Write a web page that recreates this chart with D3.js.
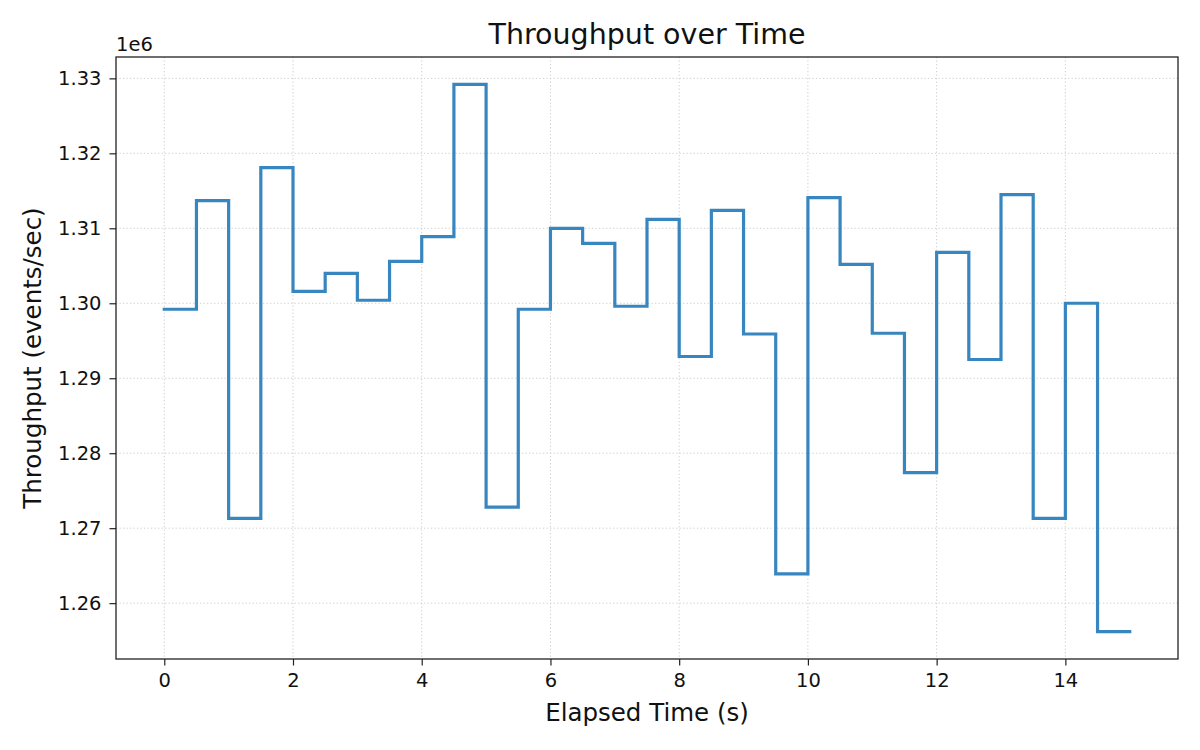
<!DOCTYPE html>
<html>
<head>
<meta charset="utf-8">
<script src="https://cdn.jsdelivr.net/npm/d3@7"></script>
<style>
  body { margin: 0; background: #fff; }
  svg { font-family: "DejaVu Sans", sans-serif; }
</style>
</head>
<body>
<svg id="chart" width="1200" height="750"></svg>
<script>
// start of each 0.5 s interval (s)
const times = [0, 0.5, 1, 1.5, 2, 2.5, 3, 3.5, 4, 4.5, 5, 5.5, 6, 6.5, 7, 7.5,
               8, 8.5, 9, 9.5, 10, 10.5, 11, 11.5, 12, 12.5, 13, 13.5, 14, 14.5];
// throughput in events/sec for that interval
const throughput = [1299200, 1313700, 1271300, 1318100, 1301600, 1304000, 1300400, 1305600,
                    1308900, 1329200, 1272800, 1299200, 1310000, 1308000, 1299600, 1311200,
                    1292900, 1312400, 1295900, 1263900, 1314100, 1305200, 1296000, 1277400,
                    1306800, 1292500, 1314500, 1271300, 1300000, 1256200];
const endTime = 15;
const xTicks = [0, 2, 4, 6, 8, 10, 12, 14];
const yTicks = [1260000, 1270000, 1280000, 1290000, 1300000, 1310000, 1320000, 1330000];

const svg = d3.select('#chart');
const pL = 116, pR = 1178, pT = 57, pB = 659;

// step points, last value held until the end time
const pts = times.map((t, i) => [t, throughput[i]]);
pts.push([endTime, throughput[throughput.length - 1]]);

const tMin = times[0], tMax = endTime;
const tPad = (tMax - tMin) * 0.05;
const x = d3.scaleLinear().domain([tMin - tPad, tMax + tPad]).range([pL, pR]);

const [vMin, vMax] = d3.extent(throughput);
const vPad = (vMax - vMin) * 0.05;
const y = d3.scaleLinear().domain([vMin - vPad, vMax + vPad]).range([pB, pT]);

// grid
const grid = svg.append('g')
    .attr('stroke', '#cfcfcf')
    .attr('stroke-width', 1)
    .attr('stroke-dasharray', '1.3,2.2');
xTicks.forEach(t => {
    grid.append('line')
        .attr('x1', x(t)).attr('x2', x(t))
        .attr('y1', pT).attr('y2', pB);
});
yTicks.forEach(v => {
    grid.append('line')
        .attr('x1', pL).attr('x2', pR)
        .attr('y1', y(v)).attr('y2', y(v));
});

// the step line
const line = d3.line()
    .x(d => x(d[0]))
    .y(d => y(d[1]))
    .curve(d3.curveStepAfter);

svg.append('path')
    .datum(pts)
    .attr('d', line)
    .attr('fill', 'none')
    .attr('stroke', '#3886bf')
    .attr('stroke-width', 3.2)
    .attr('stroke-linecap', 'square')
    .attr('stroke-linejoin', 'miter');

// axes
const xAxis = d3.axisBottom(x).tickValues(xTicks).tickSize(6.5).tickPadding(8).tickFormat(d3.format('d'));
const yAxis = d3.axisLeft(y).tickValues(yTicks).tickSize(6.5).tickPadding(8).tickFormat(d => (d / 1e6).toFixed(2));

const gx = svg.append('g').attr('transform', `translate(0,${pB})`).call(xAxis);
const gy = svg.append('g').attr('transform', `translate(${pL},0)`).call(yAxis);
[gx, gy].forEach(g => {
    g.select('.domain').remove();
    g.selectAll('.tick line').attr('stroke', '#222').attr('stroke-width', 1.2);
    g.selectAll('.tick text')
        .attr('fill', '#111')
        .style('font-size', '19.5px')
        .style('font-family', '"DejaVu Sans", sans-serif');
});

// frame
svg.append('rect')
    .attr('x', pL).attr('y', pT)
    .attr('width', pR - pL).attr('height', pB - pT)
    .attr('fill', 'none')
    .attr('stroke', '#222')
    .attr('stroke-width', 1.3);

// texts
svg.append('text')
    .attr('x', (pL + pR) / 2).attr('y', 44)
    .attr('text-anchor', 'middle')
    .style('font-size', '28.5px')
    .attr('fill', '#111')
    .text('Throughput over Time');

svg.append('text')
    .attr('x', (pL + pR) / 2).attr('y', 721)
    .attr('text-anchor', 'middle')
    .style('font-size', '24.5px')
    .attr('fill', '#111')
    .text('Elapsed Time (s)');

svg.append('text')
    .attr('transform', `translate(41,${(pT + pB) / 2}) rotate(-90)`)
    .attr('text-anchor', 'middle')
    .style('font-size', '24.5px')
    .attr('fill', '#111')
    .text('Throughput (events/sec)');

svg.append('text')
    .attr('x', pL).attr('y', 51)
    .style('font-size', '19.5px')
    .attr('fill', '#111')
    .text('1e6');
</script>
</body>
</html>
